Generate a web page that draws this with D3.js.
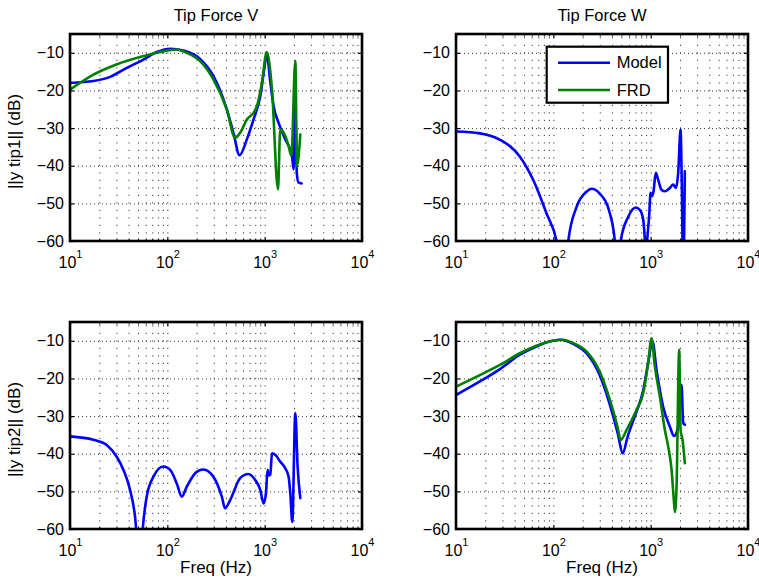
<!DOCTYPE html>
<html>
<head>
<meta charset="utf-8">
<script src="https://cdn.jsdelivr.net/npm/d3@7/dist/d3.min.js"></script>
<style>
  html, body { margin: 0; padding: 0; background: #fff; }
  svg { display: block; font-family: "Liberation Sans", Arial, Helvetica, sans-serif; }
</style>
</head>
<body>
<svg id="chart" width="759" height="581"></svg>
<script>
// ---- Axis ticks -------------------------------------------------------
const freqTicks = [10, 100, 1000, 10000];
const freqTickExponents = ["1", "2", "3", "4"];
const dbTicks = [-60, -50, -40, -30, -20, -10];
const dbDomain = [-60, -5];
const freqDomain = [10, 10000];

// ---- Panel titles / labels -------------------------------------------
const columnTitles = ["Tip Force V", "Tip Force W"];
const rowLabels = ["||y tip1|| (dB)", "||y tip2|| (dB)"];
const xLabel = "Freq (Hz)";
const seriesNames = ["Model", "FRD"];

// ---- Tip Force V -> tip1 ---------------------------------------------
const vTip1ModelFreq = [10, 17.4, 25.8, 38.3, 56.8, 77.9, 106.7, 146.5, 217, 298, 408, 478, 552, 656, 769, 902, 1000, 1050, 1140, 1236, 1390, 1629, 1910, 1983, 2060, 2140, 2232, 2400];
const vTip1ModelDb   = [-18.0, -17.5, -16.4, -14.0, -11.8, -9.8, -8.9, -9.4, -11.6, -16.2, -25.0, -31.3, -37.2, -33.0, -27.7, -21.5, -13.5, -10.2, -17.5, -24.2, -28.6, -33.0, -37.4, -41.0, -24.0, -42.0, -44.5, -44.7];
const vTip1FrdFreq   = [10, 17.4, 30, 56.8, 84, 125, 158, 217, 298, 408, 498, 561, 657, 770, 832, 937, 1050, 1189, 1371, 1445, 1629, 1762, 1879, 2065, 2149, 2323];
const vTip1FrdDb     = [-19.8, -15.8, -13.1, -10.9, -9.8, -9.1, -10.0, -12.2, -17.1, -25.0, -32.6, -31.2, -27.7, -25.9, -24.2, -18.0, -9.8, -19.7, -46.3, -30.4, -32.1, -34.8, -37.4, -12.2, -40.0, -31.7];

// ---- Tip Force W -> tip1 ---------------------------------------------
const wTip1ModelFreq = [10, 17.6, 28.3, 45.4, 62.2, 85.2, 107.9, 131, 142.5, 173, 219, 246, 300, 381, 428, 458, 492, 587, 701, 774, 838, 871, 895, 920, 965, 998, 1037, 1070, 1129, 1193, 1293, 1400, 1575, 1703, 1815, 1917, 2028, 2090, 2157, 2245];
const wTip1ModelDb   = [-30.9, -31.4, -33.1, -37.6, -43.8, -52.7, -60.0, -75.0, -60.0, -51.0, -46.9, -46.1, -47.4, -52.7, -60.0, -75.0, -60.0, -53.6, -51.1, -51.7, -54.3, -59.7, -66.0, -60.0, -53.4, -47.2, -48.1, -46.8, -41.9, -43.7, -46.4, -46.8, -45.9, -45.0, -45.9, -41.9, -30.4, -45.5, -70.0, -41.5];

// ---- Tip Force V -> tip2 ---------------------------------------------
const vTip2ModelFreq = [10, 17.4, 23.8, 30.2, 35.4, 41.4, 46.6, 52.5, 55.9, 61.4, 72, 91, 107, 125, 141, 158, 200, 235, 297, 363, 392, 442, 560, 680, 800, 901, 976, 1031, 1071, 1100, 1142, 1189, 1285, 1445, 1629, 1762, 1833, 1922, 2065, 2180, 2323];
const vTip2ModelDb   = [-35.4, -36.3, -37.7, -40.8, -44.3, -49.6, -56.7, -72.0, -60.0, -51.4, -46.1, -43.4, -44.3, -47.9, -51.4, -48.8, -44.8, -44.2, -46.1, -51.4, -54.5, -52.3, -46.5, -45.4, -47.0, -49.6, -53.2, -50.5, -44.3, -45.8, -45.6, -39.9, -40.3, -42.1, -43.9, -46.1, -50.5, -58.1, -29.2, -43.4, -51.8];

// ---- Tip Force W -> tip2 ---------------------------------------------
const wTip2ModelFreq = [10, 17.6, 28.3, 45.4, 67, 92, 117, 160, 219, 299, 377, 459, 516, 579, 705, 840, 940, 1045, 1148, 1343, 1574, 1742, 1915, 2075, 2160, 2245];
const wTip2ModelDb   = [-24.4, -20.8, -17.5, -13.7, -11.5, -10.2, -9.7, -10.8, -13.3, -19.1, -26.6, -34.6, -39.9, -35.5, -29.3, -23.1, -16.0, -10.2, -17.7, -27.5, -32.8, -35.3, -32.8, -21.7, -31.8, -32.3];
const wTip2FrdFreq   = [10, 17.6, 28.3, 45.4, 67, 100, 125, 160, 219, 300, 381, 464, 490, 565, 715, 837, 942, 1021, 1104, 1243, 1400, 1514, 1640, 1730, 1773, 1845, 1963, 2028, 2126, 2245];
const wTip2FrdDb     = [-22.2, -19.1, -16.4, -13.3, -11.3, -9.9, -9.7, -10.6, -12.8, -18.2, -25.7, -33.7, -36.4, -33.7, -28.4, -24.0, -16.0, -9.3, -16.8, -24.8, -33.7, -38.1, -44.3, -52.3, -55.5, -48.7, -12.4, -33.7, -36.3, -42.5];

// ---- Layout -----------------------------------------------------------
const colX = [70, 456];
const rowY = [34, 322];
const plotW = 292, plotH = 207;
const modelColor = "#0000ff", frdColor = "#008000";

const panels = [
  { col: 0, row: 0, model: [vTip1ModelFreq, vTip1ModelDb], frd: [vTip1FrdFreq, vTip1FrdDb] },
  { col: 1, row: 0, model: [wTip1ModelFreq, wTip1ModelDb], frd: null, legend: true },
  { col: 0, row: 1, model: [vTip2ModelFreq, vTip2ModelDb], frd: null },
  { col: 1, row: 1, model: [wTip2ModelFreq, wTip2ModelDb], frd: [wTip2FrdFreq, wTip2FrdDb] }
];

const svg = d3.select("#chart");
const minorFreqs = [10, 100, 1000].flatMap(d => [2, 3, 4, 5, 6, 7, 8, 9].map(m => m * d));

panels.forEach((p, i) => {
  const x0 = colX[p.col], y0 = rowY[p.row];
  const x = d3.scaleLog().domain(freqDomain).range([0, plotW]);
  const y = d3.scaleLinear().domain(dbDomain).range([plotH, 0]);
  const g = svg.append("g").attr("transform", `translate(${x0},${y0})`);

  g.append("clipPath").attr("id", "clip" + i)
    .append("rect").attr("width", plotW).attr("height", plotH);

  // dotted grid
  const vGrid = g.append("g").call(
    d3.axisBottom(x).tickValues(minorFreqs.concat([100, 1000])).tickSize(-plotH).tickFormat("")
  ).attr("transform", `translate(0,${plotH})`);
  vGrid.select(".domain").remove();
  vGrid.selectAll("line").attr("stroke", "#3a3a3a").attr("stroke-width", 1)
    .attr("stroke-dasharray", "1.2,6.3");

  const hGrid = g.append("g").call(
    d3.axisLeft(y).tickValues(dbTicks.filter(d => d > -60)).tickSize(-plotW).tickFormat("")
  );
  hGrid.select(".domain").remove();
  hGrid.selectAll("line").attr("stroke", "#3a3a3a").attr("stroke-width", 1)
    .attr("stroke-dasharray", "1,3");

  // curves
  const line = d3.line().x(d => x(d[0])).y(d => y(d[1])).curve(d3.curveMonotoneX);
  const plotG = g.append("g").attr("clip-path", `url(#clip${i})`);
  const drawSeries = (s, color) => {
    if (!s) return;
    const pts = s[0].map((f, k) => [f, s[1][k]]);
    plotG.append("path").datum(pts).attr("d", line)
      .attr("fill", "none").attr("stroke", color).attr("stroke-width", 2.6)
      .attr("stroke-linejoin", "round").attr("stroke-linecap", "round");
  };
  drawSeries(p.model, modelColor);
  drawSeries(p.frd, frdColor);

  // y axis (left labels, ticks inside on both sides)
  const yAx = g.append("g").call(d3.axisLeft(y).tickValues(dbTicks).tickSize(-4).tickPadding(6)
    .tickFormat(d => String(d).replace("-", "\u2212")));
  yAx.select(".domain").remove();
  yAx.selectAll("line").attr("stroke", "#000").attr("stroke-width", 1.2);
  yAx.selectAll("text").attr("font-size", 16).attr("fill", "#000").attr("font-family", null);

  const yAxR = g.append("g").attr("transform", `translate(${plotW},0)`)
    .call(d3.axisRight(y).tickValues(dbTicks).tickSize(-4).tickFormat(""));
  yAxR.select(".domain").remove();
  yAxR.selectAll("line").attr("stroke", "#000").attr("stroke-width", 1.2);

  // x axis (bottom labels with superscript exponents)
  const xAx = g.append("g").attr("transform", `translate(0,${plotH})`)
    .call(d3.axisBottom(x).tickValues(freqTicks).tickSize(-4).tickPadding(14).tickFormat(""));
  xAx.select(".domain").remove();
  xAx.selectAll("line").attr("stroke", "#000").attr("stroke-width", 1.2);
  xAx.selectAll(".tick").each(function (d, k) {
    const t = d3.select(this).append("text")
      .attr("y", 27).attr("text-anchor", "middle").attr("fill", "#000").attr("font-size", 16);
    t.append("tspan").text("10");
    t.append("tspan").attr("font-size", 11).attr("dy", -10).text(freqTickExponents[k]);
  });
  const xMinor = g.append("g").attr("transform", `translate(0,${plotH})`)
    .call(d3.axisBottom(x).tickValues(minorFreqs).tickSize(-2.5).tickFormat(""));
  xMinor.select(".domain").remove();
  xMinor.selectAll("line").attr("stroke", "#000").attr("stroke-width", 1);

  const xTop = g.append("g")
    .call(d3.axisTop(x).tickValues(freqTicks).tickSize(-4).tickFormat(""));
  xTop.select(".domain").remove();
  xTop.selectAll("line").attr("stroke", "#000").attr("stroke-width", 1.2);
  const xTopMinor = g.append("g")
    .call(d3.axisTop(x).tickValues(minorFreqs).tickSize(-2.5).tickFormat(""));
  xTopMinor.select(".domain").remove();
  xTopMinor.selectAll("line").attr("stroke", "#000").attr("stroke-width", 1);

  // frame
  g.append("rect").attr("width", plotW).attr("height", plotH)
    .attr("fill", "none").attr("stroke", "#000").attr("stroke-width", 2.6);

  // titles and labels
  if (p.row === 0) {
    g.append("text").attr("x", plotW / 2).attr("y", -13).attr("text-anchor", "middle")
      .attr("font-size", 16.5).attr("fill", "#000").text(columnTitles[p.col]);
  } else {
    g.append("text").attr("x", plotW / 2).attr("y", plotH + 44).attr("text-anchor", "middle")
      .attr("font-size", 17).attr("fill", "#000").text(xLabel);
  }
  if (p.col === 0) {
    g.append("text").attr("transform", `translate(-50,${plotH / 2 + 4}) rotate(-90)`)
      .attr("text-anchor", "middle").attr("font-size", 17).attr("fill", "#000")
      .text(rowLabels[p.row]);
  }

  // legend
  if (p.legend) {
    const lg = g.append("g").attr("transform", "translate(90.7,12.7)");
    lg.append("rect").attr("width", 121.3).attr("height", 56)
      .attr("fill", "#fff").attr("stroke", "#000").attr("stroke-width", 2.2);
    [modelColor, frdColor].forEach((c, k) => {
      const yy = 16 + k * 27.3;
      lg.append("line").attr("x1", 11.3).attr("x2", 63.3).attr("y1", yy).attr("y2", yy)
        .attr("stroke", c).attr("stroke-width", 2.6);
      lg.append("text").attr("x", 70).attr("y", yy + 5.8).attr("font-size", 16.5)
        .attr("fill", "#000").text(seriesNames[k]);
    });
  }
});
</script>
</body>
</html>
